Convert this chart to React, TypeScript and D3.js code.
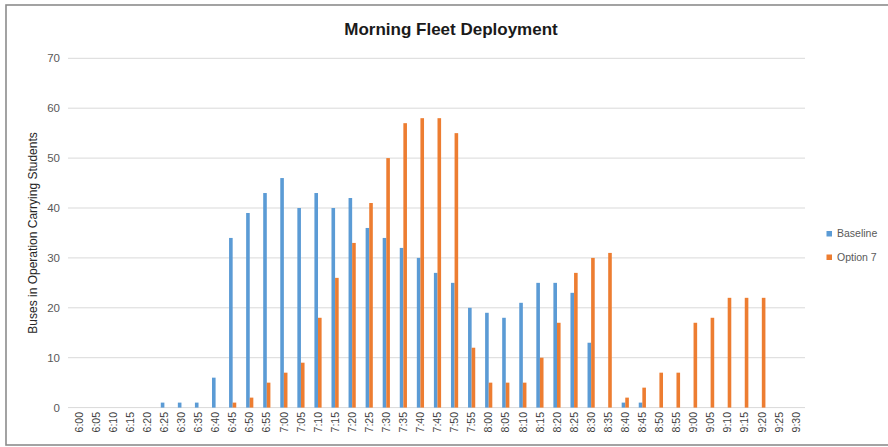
import React from "react";
import * as d3 from "d3";

const categories = [
  "6:00","6:05","6:10","6:15","6:20","6:25","6:30","6:35","6:40","6:45","6:50","6:55",
  "7:00","7:05","7:10","7:15","7:20","7:25","7:30","7:35","7:40","7:45","7:50","7:55",
  "8:00","8:05","8:10","8:15","8:20","8:25","8:30","8:35","8:40","8:45","8:50","8:55",
  "9:00","9:05","9:10","9:15","9:20","9:25","9:30",
];
const baseline = [
  0,0,0,0,0,1,1,1,6,34,39,43,
  46,40,43,40,42,36,34,32,30,27,25,20,
  19,18,21,25,25,23,13,0,1,1,0,0,
  0,0,0,0,0,0,0,
];
const option7 = [
  0,0,0,0,0,0,0,0,0,1,2,5,
  7,9,18,26,33,41,50,57,58,58,55,12,
  5,5,5,10,17,27,30,31,2,4,7,7,
  17,18,22,22,22,0,0,
];
const seriesNames = ["Baseline", "Option 7"];
const seriesColors = ["#5B9BD5", "#ED7D31"];
const yTicks = [0, 10, 20, 30, 40, 50, 60, 70];
const title = "Morning Fleet Deployment";
const yTitle = "Buses in Operation Carrying Students";

const W = 888;
const H = 447;
const plot = { left: 70.5, right: 804.5, top: 58.3, bottom: 407.6 };
const FONT = "'Liberation Sans', 'DejaVu Sans', sans-serif";

export default function App() {
  const x = d3
    .scaleBand<string>()
    .domain(categories)
    .range([plot.left, plot.right])
    .paddingInner(0)
    .paddingOuter(0);
  const y = d3.scaleLinear().domain([0, 70]).range([plot.bottom, plot.top]);
  const step = x.bandwidth();
  const barW = 3.6;
  const series = [baseline, option7];

  return (
    <svg
      width={W}
      height={H}
      style={{ position: "absolute", left: 0, top: 0, background: "#fff" }}
      fontFamily={FONT}
    >
      <rect x={0} y={0} width={W} height={H} fill="#fff" />
      <rect x={6} y={5} width={W} height={440} fill="none" stroke="#8c8c8c" strokeWidth={1.6} />
      <text
        x={451}
        y={35}
        textAnchor="middle"
        fontSize={17}
        fontWeight="bold"
        fill="#1a1a1a"
      >
        {title}
      </text>
      {yTicks.map((t) => (
        <g key={t}>
          <line
            x1={68}
            x2={805}
            y1={y(t)}
            y2={y(t)}
            stroke="#d9d9d9"
            strokeWidth={1}
          />
          <text
            x={60}
            y={y(t)}
            dy="0.35em"
            textAnchor="end"
            fontSize={11.5}
            fill="#595959"
          >
            {t}
          </text>
        </g>
      ))}
      <text
        transform={`translate(37,${(plot.top + plot.bottom) / 2}) rotate(-90)`}
        textAnchor="middle"
        fontSize={12}
        fill="#262626"
      >
        {yTitle}
      </text>
      {series.map((vals, si) =>
        vals.map((v, i) => {
          const cx = (x(categories[i]) as number) + step / 2;
          const bx = si === 0 ? cx - barW : cx;
          return v > 0 ? (
            <rect
              key={`${si}-${i}`}
              x={bx}
              y={y(v)}
              width={barW}
              height={y(0) - y(v)}
              fill={seriesColors[si]}
            />
          ) : null;
        })
      )}
      {categories.map((c) => {
        const cx = (x(c) as number) + step / 2;
        return (
          <text
            key={c}
            transform={`translate(${cx},412) rotate(-90)`}
            textAnchor="end"
            dy="0.35em"
            fontSize={10.5}
            fill="#404040"
          >
            {c}
          </text>
        );
      })}
      {seriesNames.map((n, i) => (
        <g key={n}>
          <rect x={826.5} y={231 + i * 23.5} width={5.5} height={5.5} fill={seriesColors[i]} />
          <text x={837} y={233.8 + i * 23.5} dy="0.35em" fontSize={10.5} fill="#595959">
            {n}
          </text>
        </g>
      ))}
    </svg>
  );
}
